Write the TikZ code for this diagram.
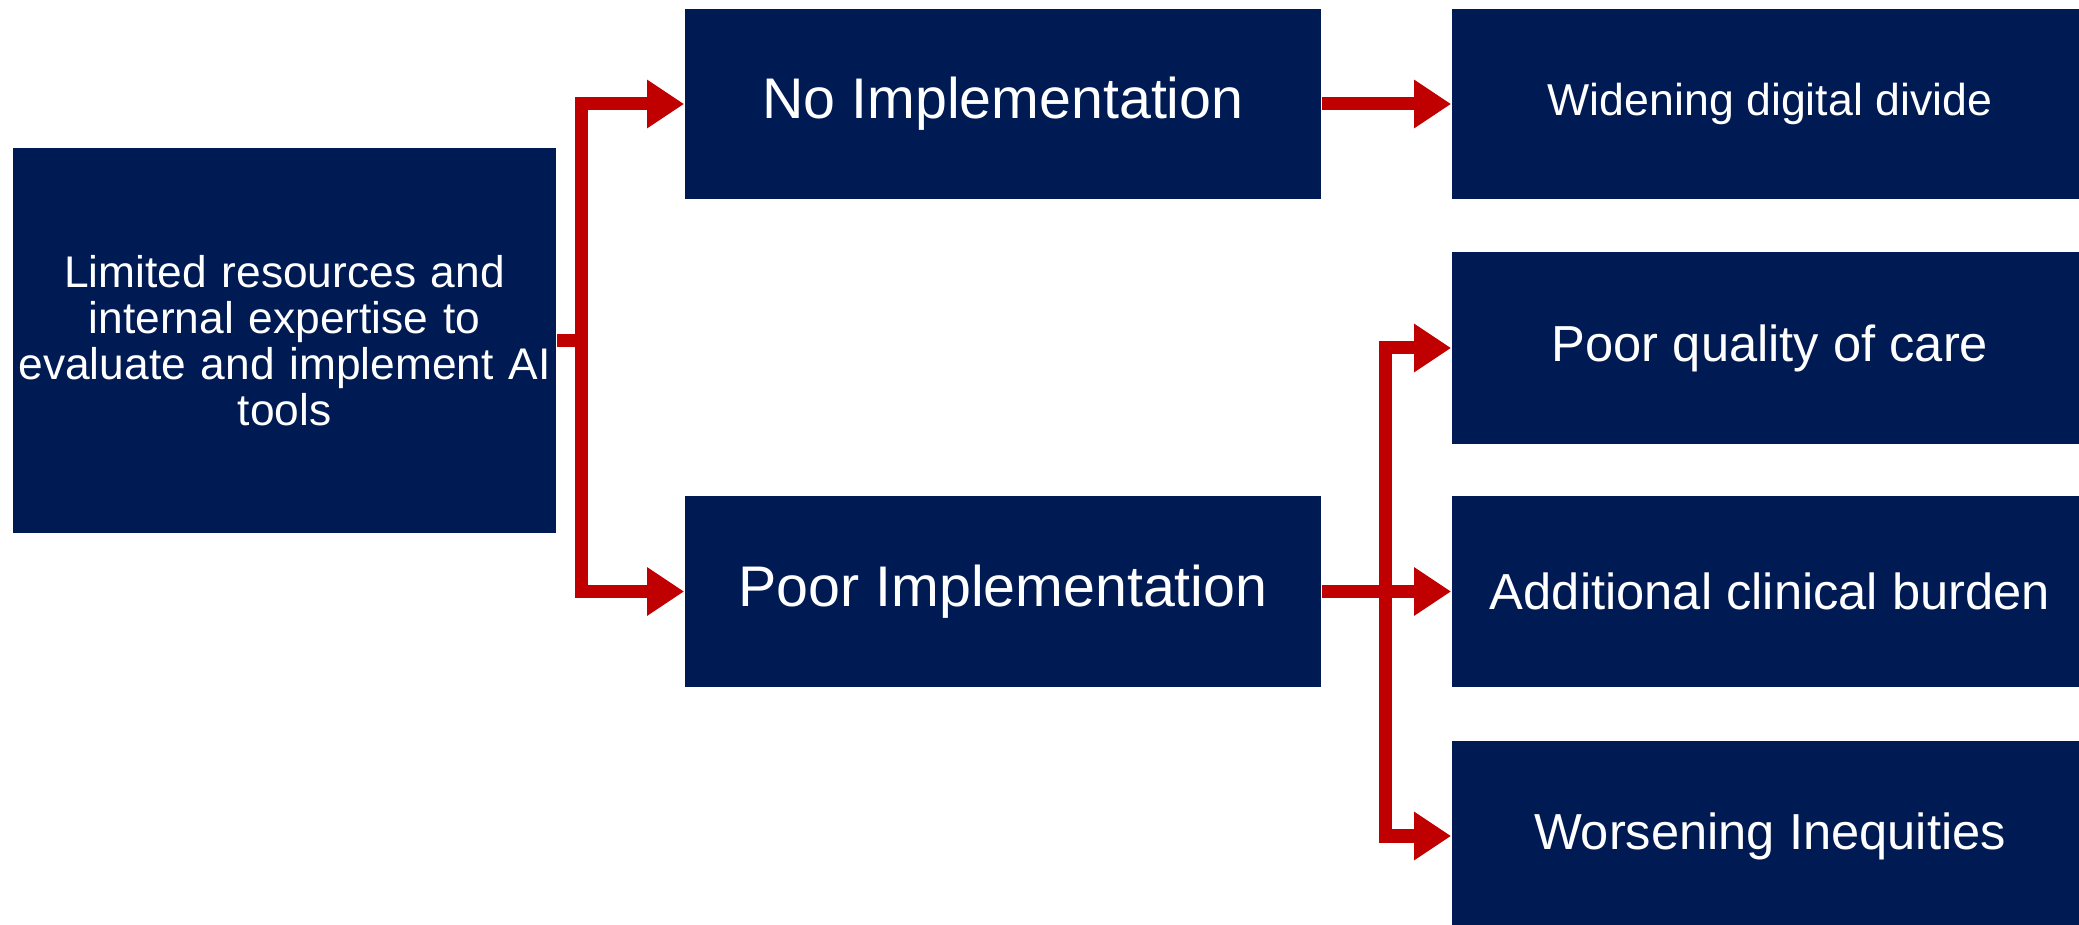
\documentclass[tikz,border=0pt]{standalone}
\usepackage{fontspec}
\setmainfont{Liberation Sans}
\usepackage{xcolor}
\usepackage{tikz}
\usetikzlibrary{arrows.meta}
\definecolor{navy}{RGB}{0,27,84}
\definecolor{dunkelrot}{RGB}{192,0,0}

\begin{document}
\begin{tikzpicture}[x = 0.01cm, y = -0.01cm,
        box/.style = {fill=navy, text=white, minimum width=6.36cm, minimum height=1.9cm, inner sep=0pt, align=center},
        pfeil/.style = {draw=dunkelrot, line width=0.13cm, line join=miter, -{Triangle[length=0.37cm, width=0.46cm]}}]
            \clip (0,0) rectangle (2079,925);         %Rahmen
            \node [box, minimum width=5.43cm, minimum height=3.85cm, text width=5.4cm, font=\fontsize{12.6}{13.1}\selectfont] (src) at (284.5,340.5) {Limited resources and\\ internal expertise to\\ evaluate and implement AI\\ tools};
            \node [box, font=\fontsize{16.3}{18}\selectfont] (noimp) at (1003,104) {No Implementation};
            \node [box, font=\fontsize{16.3}{18}\selectfont] (poorimp) at (1003,591.5) {Poor Implementation};
            \node [box, font=\fontsize{12.7}{14}\selectfont] (widen) at (1770,104) {Widening digital divide};
            \node [box, minimum height=1.92cm, font=\fontsize{14.4}{16}\selectfont] (quality) at (1770,348) {Poor quality of care};
            \node [box, font=\fontsize{14.4}{16}\selectfont] (burden) at (1770,591.5) {Additional clinical burden};
            \node [box, font=\fontsize{14.4}{16}\selectfont] (worse) at (1770,836) {Worsening Inequities};
            \coordinate (v1) at (581,0);              %linke Gabel
            \coordinate (v2) at (1385,0);             %rechte Gabel
            \draw [pfeil] (src.east) -- (v1 |- src.east) |- (noimp.west);
            \draw [pfeil] (src.east) -- (v1 |- src.east) |- (poorimp.west);
            \draw [pfeil] (noimp.east) -- (widen.west);
            \draw [pfeil] (poorimp.east) -- (burden.west);
            \draw [pfeil] (v2 |- burden.west) |- (quality.west);
            \draw [pfeil] (v2 |- burden.west) |- (worse.west);
        \end{tikzpicture}
\end{document}
